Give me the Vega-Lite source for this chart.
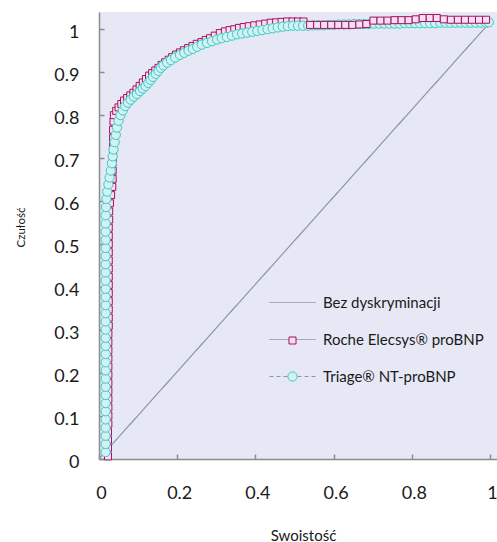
{
"$schema": "https://vega.github.io/schema/vega-lite/v6.json",
"width": 398, "height": 447, "autosize": "none",
"padding": {"left": 99, "top": 12, "right": 0, "bottom": 83},
"background": "#ffffff",
"config": {"view": {"stroke": null, "fill": "#e6e8f5"}, "font": "Lato", "legend": {"labelFont": "Lato", "labelFontSize": 15, "labelColor": "#1a1a1a"}},
"data": {"values": [
{"seria":"Bez dyskryminacji","x":0,"y":0},
{"seria":"Bez dyskryminacji","x":1,"y":1.016},
{"seria":"Roche Elecsys® proBNP","x":0.023,"y":0.006},
{"seria":"Roche Elecsys® proBNP","x":0.023,"y":0.025},
{"seria":"Roche Elecsys® proBNP","x":0.023,"y":0.044},
{"seria":"Roche Elecsys® proBNP","x":0.023,"y":0.063},
{"seria":"Roche Elecsys® proBNP","x":0.024,"y":0.082},
{"seria":"Roche Elecsys® proBNP","x":0.024,"y":0.101},
{"seria":"Roche Elecsys® proBNP","x":0.024,"y":0.120},
{"seria":"Roche Elecsys® proBNP","x":0.024,"y":0.139},
{"seria":"Roche Elecsys® proBNP","x":0.024,"y":0.158},
{"seria":"Roche Elecsys® proBNP","x":0.024,"y":0.177},
{"seria":"Roche Elecsys® proBNP","x":0.024,"y":0.196},
{"seria":"Roche Elecsys® proBNP","x":0.024,"y":0.215},
{"seria":"Roche Elecsys® proBNP","x":0.024,"y":0.234},
{"seria":"Roche Elecsys® proBNP","x":0.024,"y":0.253},
{"seria":"Roche Elecsys® proBNP","x":0.024,"y":0.272},
{"seria":"Roche Elecsys® proBNP","x":0.024,"y":0.291},
{"seria":"Roche Elecsys® proBNP","x":0.025,"y":0.310},
{"seria":"Roche Elecsys® proBNP","x":0.025,"y":0.329},
{"seria":"Roche Elecsys® proBNP","x":0.025,"y":0.348},
{"seria":"Roche Elecsys® proBNP","x":0.025,"y":0.367},
{"seria":"Roche Elecsys® proBNP","x":0.025,"y":0.386},
{"seria":"Roche Elecsys® proBNP","x":0.025,"y":0.405},
{"seria":"Roche Elecsys® proBNP","x":0.025,"y":0.424},
{"seria":"Roche Elecsys® proBNP","x":0.025,"y":0.443},
{"seria":"Roche Elecsys® proBNP","x":0.025,"y":0.462},
{"seria":"Roche Elecsys® proBNP","x":0.025,"y":0.481},
{"seria":"Roche Elecsys® proBNP","x":0.025,"y":0.500},
{"seria":"Roche Elecsys® proBNP","x":0.025,"y":0.519},
{"seria":"Roche Elecsys® proBNP","x":0.025,"y":0.538},
{"seria":"Roche Elecsys® proBNP","x":0.026,"y":0.557},
{"seria":"Roche Elecsys® proBNP","x":0.026,"y":0.576},
{"seria":"Roche Elecsys® proBNP","x":0.028,"y":0.595},
{"seria":"Roche Elecsys® proBNP","x":0.031,"y":0.614},
{"seria":"Roche Elecsys® proBNP","x":0.034,"y":0.633},
{"seria":"Roche Elecsys® proBNP","x":0.035,"y":0.652},
{"seria":"Roche Elecsys® proBNP","x":0.035,"y":0.671},
{"seria":"Roche Elecsys® proBNP","x":0.035,"y":0.690},
{"seria":"Roche Elecsys® proBNP","x":0.036,"y":0.709},
{"seria":"Roche Elecsys® proBNP","x":0.036,"y":0.728},
{"seria":"Roche Elecsys® proBNP","x":0.036,"y":0.747},
{"seria":"Roche Elecsys® proBNP","x":0.036,"y":0.766},
{"seria":"Roche Elecsys® proBNP","x":0.037,"y":0.785},
{"seria":"Roche Elecsys® proBNP","x":0.038,"y":0.800},
{"seria":"Roche Elecsys® proBNP","x":0.044,"y":0.810},
{"seria":"Roche Elecsys® proBNP","x":0.050,"y":0.818},
{"seria":"Roche Elecsys® proBNP","x":0.057,"y":0.826},
{"seria":"Roche Elecsys® proBNP","x":0.064,"y":0.834},
{"seria":"Roche Elecsys® proBNP","x":0.072,"y":0.840},
{"seria":"Roche Elecsys® proBNP","x":0.080,"y":0.846},
{"seria":"Roche Elecsys® proBNP","x":0.088,"y":0.852},
{"seria":"Roche Elecsys® proBNP","x":0.096,"y":0.860},
{"seria":"Roche Elecsys® proBNP","x":0.104,"y":0.868},
{"seria":"Roche Elecsys® proBNP","x":0.112,"y":0.876},
{"seria":"Roche Elecsys® proBNP","x":0.120,"y":0.884},
{"seria":"Roche Elecsys® proBNP","x":0.128,"y":0.892},
{"seria":"Roche Elecsys® proBNP","x":0.136,"y":0.898},
{"seria":"Roche Elecsys® proBNP","x":0.144,"y":0.904},
{"seria":"Roche Elecsys® proBNP","x":0.152,"y":0.910},
{"seria":"Roche Elecsys® proBNP","x":0.160,"y":0.917},
{"seria":"Roche Elecsys® proBNP","x":0.169,"y":0.923},
{"seria":"Roche Elecsys® proBNP","x":0.178,"y":0.929},
{"seria":"Roche Elecsys® proBNP","x":0.187,"y":0.935},
{"seria":"Roche Elecsys® proBNP","x":0.197,"y":0.941},
{"seria":"Roche Elecsys® proBNP","x":0.207,"y":0.946},
{"seria":"Roche Elecsys® proBNP","x":0.217,"y":0.951},
{"seria":"Roche Elecsys® proBNP","x":0.228,"y":0.956},
{"seria":"Roche Elecsys® proBNP","x":0.239,"y":0.961},
{"seria":"Roche Elecsys® proBNP","x":0.250,"y":0.966},
{"seria":"Roche Elecsys® proBNP","x":0.262,"y":0.970},
{"seria":"Roche Elecsys® proBNP","x":0.273,"y":0.975},
{"seria":"Roche Elecsys® proBNP","x":0.284,"y":0.979},
{"seria":"Roche Elecsys® proBNP","x":0.296,"y":0.985},
{"seria":"Roche Elecsys® proBNP","x":0.309,"y":0.991},
{"seria":"Roche Elecsys® proBNP","x":0.322,"y":0.995},
{"seria":"Roche Elecsys® proBNP","x":0.334,"y":0.998},
{"seria":"Roche Elecsys® proBNP","x":0.346,"y":1.000},
{"seria":"Roche Elecsys® proBNP","x":0.358,"y":1.003},
{"seria":"Roche Elecsys® proBNP","x":0.370,"y":1.005},
{"seria":"Roche Elecsys® proBNP","x":0.383,"y":1.007},
{"seria":"Roche Elecsys® proBNP","x":0.397,"y":1.009},
{"seria":"Roche Elecsys® proBNP","x":0.411,"y":1.011},
{"seria":"Roche Elecsys® proBNP","x":0.425,"y":1.013},
{"seria":"Roche Elecsys® proBNP","x":0.439,"y":1.015},
{"seria":"Roche Elecsys® proBNP","x":0.453,"y":1.016},
{"seria":"Roche Elecsys® proBNP","x":0.467,"y":1.017},
{"seria":"Roche Elecsys® proBNP","x":0.481,"y":1.018},
{"seria":"Roche Elecsys® proBNP","x":0.495,"y":1.018},
{"seria":"Roche Elecsys® proBNP","x":0.509,"y":1.018},
{"seria":"Roche Elecsys® proBNP","x":0.523,"y":1.018},
{"seria":"Triage® NT-proBNP","x":0.017,"y":0.016},
{"seria":"Triage® NT-proBNP","x":0.017,"y":0.035},
{"seria":"Triage® NT-proBNP","x":0.017,"y":0.054},
{"seria":"Triage® NT-proBNP","x":0.017,"y":0.073},
{"seria":"Triage® NT-proBNP","x":0.017,"y":0.092},
{"seria":"Triage® NT-proBNP","x":0.017,"y":0.111},
{"seria":"Triage® NT-proBNP","x":0.017,"y":0.130},
{"seria":"Triage® NT-proBNP","x":0.017,"y":0.149},
{"seria":"Triage® NT-proBNP","x":0.017,"y":0.168},
{"seria":"Triage® NT-proBNP","x":0.017,"y":0.187},
{"seria":"Triage® NT-proBNP","x":0.017,"y":0.206},
{"seria":"Triage® NT-proBNP","x":0.017,"y":0.225},
{"seria":"Triage® NT-proBNP","x":0.017,"y":0.244},
{"seria":"Triage® NT-proBNP","x":0.017,"y":0.263},
{"seria":"Triage® NT-proBNP","x":0.017,"y":0.282},
{"seria":"Triage® NT-proBNP","x":0.017,"y":0.301},
{"seria":"Triage® NT-proBNP","x":0.017,"y":0.320},
{"seria":"Triage® NT-proBNP","x":0.017,"y":0.339},
{"seria":"Triage® NT-proBNP","x":0.017,"y":0.358},
{"seria":"Triage® NT-proBNP","x":0.017,"y":0.377},
{"seria":"Triage® NT-proBNP","x":0.017,"y":0.396},
{"seria":"Triage® NT-proBNP","x":0.017,"y":0.415},
{"seria":"Triage® NT-proBNP","x":0.017,"y":0.434},
{"seria":"Triage® NT-proBNP","x":0.017,"y":0.453},
{"seria":"Triage® NT-proBNP","x":0.017,"y":0.472},
{"seria":"Triage® NT-proBNP","x":0.017,"y":0.491},
{"seria":"Triage® NT-proBNP","x":0.017,"y":0.510},
{"seria":"Triage® NT-proBNP","x":0.017,"y":0.529},
{"seria":"Triage® NT-proBNP","x":0.017,"y":0.548},
{"seria":"Triage® NT-proBNP","x":0.017,"y":0.567},
{"seria":"Triage® NT-proBNP","x":0.018,"y":0.586},
{"seria":"Triage® NT-proBNP","x":0.019,"y":0.605},
{"seria":"Triage® NT-proBNP","x":0.021,"y":0.622},
{"seria":"Triage® NT-proBNP","x":0.024,"y":0.639},
{"seria":"Triage® NT-proBNP","x":0.027,"y":0.655},
{"seria":"Triage® NT-proBNP","x":0.030,"y":0.671},
{"seria":"Triage® NT-proBNP","x":0.033,"y":0.688},
{"seria":"Triage® NT-proBNP","x":0.035,"y":0.704},
{"seria":"Triage® NT-proBNP","x":0.037,"y":0.720},
{"seria":"Triage® NT-proBNP","x":0.040,"y":0.737},
{"seria":"Triage® NT-proBNP","x":0.043,"y":0.754},
{"seria":"Triage® NT-proBNP","x":0.046,"y":0.771},
{"seria":"Triage® NT-proBNP","x":0.050,"y":0.787},
{"seria":"Triage® NT-proBNP","x":0.055,"y":0.800},
{"seria":"Triage® NT-proBNP","x":0.061,"y":0.811},
{"seria":"Triage® NT-proBNP","x":0.067,"y":0.821},
{"seria":"Triage® NT-proBNP","x":0.074,"y":0.829},
{"seria":"Triage® NT-proBNP","x":0.081,"y":0.836},
{"seria":"Triage® NT-proBNP","x":0.089,"y":0.843},
{"seria":"Triage® NT-proBNP","x":0.097,"y":0.849},
{"seria":"Triage® NT-proBNP","x":0.105,"y":0.856},
{"seria":"Triage® NT-proBNP","x":0.112,"y":0.862},
{"seria":"Triage® NT-proBNP","x":0.119,"y":0.868},
{"seria":"Triage® NT-proBNP","x":0.126,"y":0.875},
{"seria":"Triage® NT-proBNP","x":0.132,"y":0.882},
{"seria":"Triage® NT-proBNP","x":0.138,"y":0.889},
{"seria":"Triage® NT-proBNP","x":0.145,"y":0.896},
{"seria":"Triage® NT-proBNP","x":0.152,"y":0.903},
{"seria":"Triage® NT-proBNP","x":0.158,"y":0.910},
{"seria":"Triage® NT-proBNP","x":0.165,"y":0.916},
{"seria":"Triage® NT-proBNP","x":0.174,"y":0.922},
{"seria":"Triage® NT-proBNP","x":0.184,"y":0.928},
{"seria":"Triage® NT-proBNP","x":0.195,"y":0.934},
{"seria":"Triage® NT-proBNP","x":0.207,"y":0.940},
{"seria":"Triage® NT-proBNP","x":0.218,"y":0.945},
{"seria":"Triage® NT-proBNP","x":0.229,"y":0.950},
{"seria":"Triage® NT-proBNP","x":0.240,"y":0.954},
{"seria":"Triage® NT-proBNP","x":0.251,"y":0.959},
{"seria":"Triage® NT-proBNP","x":0.263,"y":0.964},
{"seria":"Triage® NT-proBNP","x":0.276,"y":0.968},
{"seria":"Triage® NT-proBNP","x":0.289,"y":0.972},
{"seria":"Triage® NT-proBNP","x":0.302,"y":0.976},
{"seria":"Triage® NT-proBNP","x":0.314,"y":0.979},
{"seria":"Triage® NT-proBNP","x":0.327,"y":0.982},
{"seria":"Triage® NT-proBNP","x":0.340,"y":0.985},
{"seria":"Triage® NT-proBNP","x":0.353,"y":0.988},
{"seria":"Triage® NT-proBNP","x":0.366,"y":0.990},
{"seria":"Triage® NT-proBNP","x":0.379,"y":0.992},
{"seria":"Triage® NT-proBNP","x":0.392,"y":0.994},
{"seria":"Triage® NT-proBNP","x":0.405,"y":0.996},
{"seria":"Triage® NT-proBNP","x":0.418,"y":0.998},
{"seria":"Triage® NT-proBNP","x":0.431,"y":1.000},
{"seria":"Triage® NT-proBNP","x":0.444,"y":1.002},
{"seria":"Triage® NT-proBNP","x":0.457,"y":1.004},
{"seria":"Triage® NT-proBNP","x":0.470,"y":1.006},
{"seria":"Triage® NT-proBNP","x":0.483,"y":1.007},
{"seria":"Triage® NT-proBNP","x":0.496,"y":1.008},
{"seria":"Triage® NT-proBNP","x":0.509,"y":1.008},
{"seria":"Triage® NT-proBNP","x":0.522,"y":1.008},
{"seria":"Triage® NT-proBNP","x":0.535,"y":1.008},
{"seria":"Triage® NT-proBNP","x":0.548,"y":1.009},
{"seria":"Triage® NT-proBNP","x":0.561,"y":1.009},
{"seria":"Triage® NT-proBNP","x":0.574,"y":1.009},
{"seria":"Triage® NT-proBNP","x":0.587,"y":1.010},
{"seria":"Triage® NT-proBNP","x":0.600,"y":1.010},
{"seria":"Triage® NT-proBNP","x":0.613,"y":1.011},
{"seria":"Triage® NT-proBNP","x":0.626,"y":1.011},
{"seria":"Triage® NT-proBNP","x":0.639,"y":1.011},
{"seria":"Triage® NT-proBNP","x":0.652,"y":1.012},
{"seria":"Triage® NT-proBNP","x":0.665,"y":1.012},
{"seria":"Triage® NT-proBNP","x":0.678,"y":1.012},
{"seria":"Triage® NT-proBNP","x":0.691,"y":1.012},
{"seria":"Triage® NT-proBNP","x":0.704,"y":1.013},
{"seria":"Triage® NT-proBNP","x":0.717,"y":1.013},
{"seria":"Triage® NT-proBNP","x":0.730,"y":1.013},
{"seria":"Triage® NT-proBNP","x":0.743,"y":1.013},
{"seria":"Triage® NT-proBNP","x":0.756,"y":1.013},
{"seria":"Triage® NT-proBNP","x":0.769,"y":1.013},
{"seria":"Triage® NT-proBNP","x":0.782,"y":1.014},
{"seria":"Triage® NT-proBNP","x":0.795,"y":1.014},
{"seria":"Triage® NT-proBNP","x":0.808,"y":1.014},
{"seria":"Triage® NT-proBNP","x":0.821,"y":1.014},
{"seria":"Triage® NT-proBNP","x":0.834,"y":1.014},
{"seria":"Triage® NT-proBNP","x":0.847,"y":1.014},
{"seria":"Triage® NT-proBNP","x":0.860,"y":1.014},
{"seria":"Triage® NT-proBNP","x":0.873,"y":1.015},
{"seria":"Triage® NT-proBNP","x":0.886,"y":1.015},
{"seria":"Triage® NT-proBNP","x":0.899,"y":1.015},
{"seria":"Triage® NT-proBNP","x":0.912,"y":1.015},
{"seria":"Triage® NT-proBNP","x":0.925,"y":1.015},
{"seria":"Triage® NT-proBNP","x":0.938,"y":1.015},
{"seria":"Triage® NT-proBNP","x":0.951,"y":1.015},
{"seria":"Triage® NT-proBNP","x":0.964,"y":1.015},
{"seria":"Triage® NT-proBNP","x":0.977,"y":1.015},
{"seria":"Triage® NT-proBNP","x":0.990,"y":1.015},
{"seria":"Triage® NT-proBNP","x":0.997,"y":1.016},
{"seria":"Roche Elecsys® proBNP","x":0.540,"y":1.010},
{"seria":"Roche Elecsys® proBNP","x":0.558,"y":1.010},
{"seria":"Roche Elecsys® proBNP","x":0.576,"y":1.010},
{"seria":"Roche Elecsys® proBNP","x":0.594,"y":1.010},
{"seria":"Roche Elecsys® proBNP","x":0.612,"y":1.010},
{"seria":"Roche Elecsys® proBNP","x":0.630,"y":1.010},
{"seria":"Roche Elecsys® proBNP","x":0.648,"y":1.010},
{"seria":"Roche Elecsys® proBNP","x":0.666,"y":1.011},
{"seria":"Roche Elecsys® proBNP","x":0.684,"y":1.012},
{"seria":"Roche Elecsys® proBNP","x":0.702,"y":1.020},
{"seria":"Roche Elecsys® proBNP","x":0.720,"y":1.020},
{"seria":"Roche Elecsys® proBNP","x":0.738,"y":1.020},
{"seria":"Roche Elecsys® proBNP","x":0.756,"y":1.021},
{"seria":"Roche Elecsys® proBNP","x":0.774,"y":1.021},
{"seria":"Roche Elecsys® proBNP","x":0.792,"y":1.021},
{"seria":"Roche Elecsys® proBNP","x":0.810,"y":1.023},
{"seria":"Roche Elecsys® proBNP","x":0.828,"y":1.026},
{"seria":"Roche Elecsys® proBNP","x":0.846,"y":1.026},
{"seria":"Roche Elecsys® proBNP","x":0.864,"y":1.026},
{"seria":"Roche Elecsys® proBNP","x":0.882,"y":1.023},
{"seria":"Roche Elecsys® proBNP","x":0.900,"y":1.022},
{"seria":"Roche Elecsys® proBNP","x":0.918,"y":1.022},
{"seria":"Roche Elecsys® proBNP","x":0.936,"y":1.022},
{"seria":"Roche Elecsys® proBNP","x":0.954,"y":1.022},
{"seria":"Roche Elecsys® proBNP","x":0.972,"y":1.022},
{"seria":"Roche Elecsys® proBNP","x":0.990,"y":1.022}
]},
"encoding": {
  "x": {"field": "x", "type": "quantitative", "scale": {"domain": [0, 1.018], "nice": false, "zero": false},
        "axis": {"title": "Swoistość", "values": [0, 0.2, 0.4, 0.6, 0.8, 1], "format": "~g", "grid": false,
                 "tickSize": -5, "tickColor": "#8c8c8c", "tickWidth": 1.5, "domainColor": "#8c8c8c", "domainWidth": 1.5,
                 "labelFontSize": 18, "labelFont": "Lato", "labelColor": "#1a1a1a", "labelBaseline": "alphabetic", "labelPadding": 44,
                 "labelFlush": false, "labelOverlap": false, "labelOffset": 2,
                 "titleFont": "Lato", "titleFontSize": 15, "titleFontWeight": "normal", "titleColor": "#1a1a1a",
                 "titleX": 204, "titleY": 81, "titleBaseline": "alphabetic", "titleAlign": "center"}},
  "y": {"field": "y", "type": "quantitative", "scale": {"domain": [0, 1.04], "nice": false},
        "axis": {"title": "Czułość", "values": [0, 0.1, 0.2, 0.3, 0.4, 0.5, 0.6, 0.7, 0.8, 0.9, 1], "format": "~g", "grid": false,
                 "tickSize": -5, "tickColor": "#8c8c8c", "tickWidth": 1.5, "domainColor": "#8c8c8c", "domainWidth": 1.5,
                 "labelFontSize": 18, "labelFont": "Lato", "labelColor": "#1a1a1a", "labelPadding": 25, "labelOffset": 3,
                 "labelFlush": false, "labelOverlap": false,
                 "titleFont": "Lato", "titleFontSize": 11.5, "titleFontWeight": "normal", "titleColor": "#1a1a1a",
                 "titleAngle": 270, "titleX": -75, "titleY": 215, "titleBaseline": "alphabetic", "titleAlign": "center"}}
},
"layer": [
  {"data": {"values": [{"a": 1}]},
   "encoding": {"x": {"datum": 0, "type": "quantitative"}, "x2": {"datum": 1.018}, "y2": {"datum": 1.04}},
   "layer": [
     {"mark": {"type": "rect", "fill": "#fdfdfe"}, "encoding": {"y": {"datum": 0, "type": "quantitative"}}},
     {"mark": {"type": "rect", "fill": "#fafbfd"}, "encoding": {"y": {"datum": 0.065, "type": "quantitative"}}},
     {"mark": {"type": "rect", "fill": "#f7f8fc"}, "encoding": {"y": {"datum": 0.13, "type": "quantitative"}}},
     {"mark": {"type": "rect", "fill": "#f4f5fa"}, "encoding": {"y": {"datum": 0.195, "type": "quantitative"}}},
     {"mark": {"type": "rect", "fill": "#f0f2f9"}, "encoding": {"y": {"datum": 0.26, "type": "quantitative"}}},
     {"mark": {"type": "rect", "fill": "#edeff8"}, "encoding": {"y": {"datum": 0.325, "type": "quantitative"}}},
     {"mark": {"type": "rect", "fill": "#eaecf7"}, "encoding": {"y": {"datum": 0.39, "type": "quantitative"}}},
     {"mark": {"type": "rect", "fill": "#e7e9f5"}, "encoding": {"y": {"datum": 0.455, "type": "quantitative"}}},
     {"mark": {"type": "rect", "fill": "#e3e6f4"}, "encoding": {"y": {"datum": 0.52, "type": "quantitative"}}},
     {"mark": {"type": "rect", "fill": "#e0e3f3"}, "encoding": {"y": {"datum": 0.585, "type": "quantitative"}}},
     {"mark": {"type": "rect", "fill": "#dde0f1"}, "encoding": {"y": {"datum": 0.65, "type": "quantitative"}}},
     {"mark": {"type": "rect", "fill": "#dadcf0"}, "encoding": {"y": {"datum": 0.715, "type": "quantitative"}}},
     {"mark": {"type": "rect", "fill": "#d6daef"}, "encoding": {"y": {"datum": 0.78, "type": "quantitative"}}},
     {"mark": {"type": "rect", "fill": "#d3d7ed"}, "encoding": {"y": {"datum": 0.845, "type": "quantitative"}}},
     {"mark": {"type": "rect", "fill": "#d0d4ec"}, "encoding": {"y": {"datum": 0.91, "type": "quantitative"}}},
     {"mark": {"type": "rect", "fill": "#cdd1eb"}, "encoding": {"y": {"datum": 0.975, "type": "quantitative"}}}
   ]},
  {"encoding": {
     "strokeDash": {"field": "seria", "type": "nominal",
               "scale": {"domain": ["Bez dyskryminacji", "Roche Elecsys® proBNP", "Triage® NT-proBNP"], "range": [[1, 0], [1, 0], [4, 3]]},
               "legend": {"orient": "none", "legendX": 170, "legendY": 267, "title": null, "padding": 0,
                          "symbolType": "stroke", "symbolSize": 2116, "symbolStrokeWidth": 1, "symbolStrokeColor": "#8c96a0",
                          "labelFontSize": 15, "labelColor": "#1a1a1a", "labelOffset": 7, "labelLimit": 300, "rowPadding": 5}},
     "order": {"value": null}},
   "layer": [
     {"transform": [{"filter": {"field": "seria", "equal": "Bez dyskryminacji"}}], "mark": {"type": "line", "strokeWidth": 1.2, "color": "#8c96a0"}},
     {"transform": [{"filter": {"field": "seria", "equal": "Roche Elecsys® proBNP"}}], "mark": {"type": "line", "strokeWidth": 1, "interpolate": "step-before", "color": "#a0145f"}},
     {"transform": [{"filter": {"field": "seria", "equal": "Triage® NT-proBNP"}}], "mark": {"type": "line", "strokeWidth": 1, "color": "#3cc8c8"}}
   ]},
  {"transform": [{"filter": {"field": "seria", "oneOf": ["Roche Elecsys® proBNP", "Triage® NT-proBNP"]}}],
   "mark": {"type": "point", "strokeWidth": 1, "opacity": 1},
   "encoding": {
     "shape": {"field": "seria", "type": "nominal",
               "scale": {"domain": ["Roche Elecsys® proBNP", "Triage® NT-proBNP"], "range": ["square", "circle"]},
               "legend": {"orient": "none", "legendX": 186, "legendY": 321, "title": null, "padding": 0,
                          "symbolStrokeWidth": 1, "labelFontSize": 15, "labelExpr": "''",
                          "labelOffset": 0, "labelLimit": 300, "rowPadding": 20}},
     "size": {"field": "seria", "type": "nominal",
               "scale": {"domain": ["Roche Elecsys® proBNP", "Triage® NT-proBNP"], "range": [49, 85]},
               "legend": {"orient": "none", "legendX": 186, "legendY": 321, "title": null, "padding": 0,
                          "symbolStrokeWidth": 1, "labelFontSize": 15, "labelExpr": "''",
                          "labelOffset": 0, "labelLimit": 300, "rowPadding": 20}},
     "fill": {"field": "seria", "type": "nominal",
               "scale": {"domain": ["Roche Elecsys® proBNP", "Triage® NT-proBNP"], "range": ["#f8def0", "#d2f2f2"]},
               "legend": {"orient": "none", "legendX": 186, "legendY": 321, "title": null, "padding": 0,
                          "symbolStrokeWidth": 1, "labelFontSize": 15, "labelExpr": "''",
                          "labelOffset": 0, "labelLimit": 300, "rowPadding": 20}},
     "stroke": {"field": "seria", "type": "nominal",
               "scale": {"domain": ["Roche Elecsys® proBNP", "Triage® NT-proBNP"], "range": ["#a0145f", "#3cc8c8"]},
               "legend": {"orient": "none", "legendX": 186, "legendY": 321, "title": null, "padding": 0,
                          "symbolStrokeWidth": 1, "labelFontSize": 15, "labelExpr": "''",
                          "labelOffset": 0, "labelLimit": 300, "rowPadding": 20}}}}
]
}
